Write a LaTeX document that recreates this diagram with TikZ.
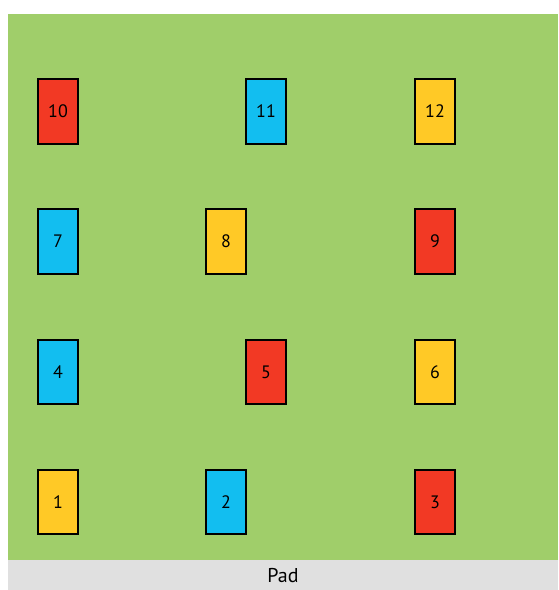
\documentclass[tikz,border=0pt]{standalone}
\usepackage{fontspec}
\setmainfont{PT Sans}
\definecolor{fieldgreen}{RGB}{160,206,106}
\definecolor{padgray}{RGB}{224,224,224}
\definecolor{potred}{RGB}{242,57,36}
\definecolor{potblue}{RGB}{18,190,240}
\definecolor{potyellow}{RGB}{255,201,38}
\tikzset{
  pot/.style={draw=black, line width=1.6pt, minimum width=40pt, minimum height=64.5pt,
    inner sep=0pt, font=\fontsize{18}{18}\selectfont},
  redpot/.style={pot, fill=potred},
  bluepot/.style={pot, fill=potblue},
  yellowpot/.style={pot, fill=potyellow}
}

\begin{document}
\begin{tikzpicture}[x=1pt,y=-1pt]
\useasboundingbox (0,0) rectangle (558,590);
\fill[white] (0,0) rectangle (558,590);
\begin{scope}[shift={(0,0)}]
\fill[fieldgreen] (8,14) rectangle (558,560);
\fill[padgray] (8,560) rectangle (558,590);
\node[font=\fontsize{20}{20}\selectfont] (pad) at (283,576) {Pad};
% row 4
\node[redpot]    (p10) at (58,111.5)  {10};
\node[bluepot]   (p11) at (266,111.5) {11};
\node[yellowpot] (p12) at (435,111.5) {12};
% row 3
\node[bluepot]   (p7) at (58,241.5)  {7};
\node[yellowpot] (p8) at (226,241.5) {8};
\node[redpot]    (p9) at (435,241.5) {9};
% row 2
\node[bluepot]   (p4) at (58,372)  {4};
\node[redpot]    (p5) at (266,372) {5};
\node[yellowpot] (p6) at (435,372) {6};
% row 1
\node[yellowpot] (p1) at (58,502)  {1};
\node[bluepot]   (p2) at (226,502) {2};
\node[redpot]    (p3) at (435,502) {3};
\end{scope}
\end{tikzpicture}
\end{document}
